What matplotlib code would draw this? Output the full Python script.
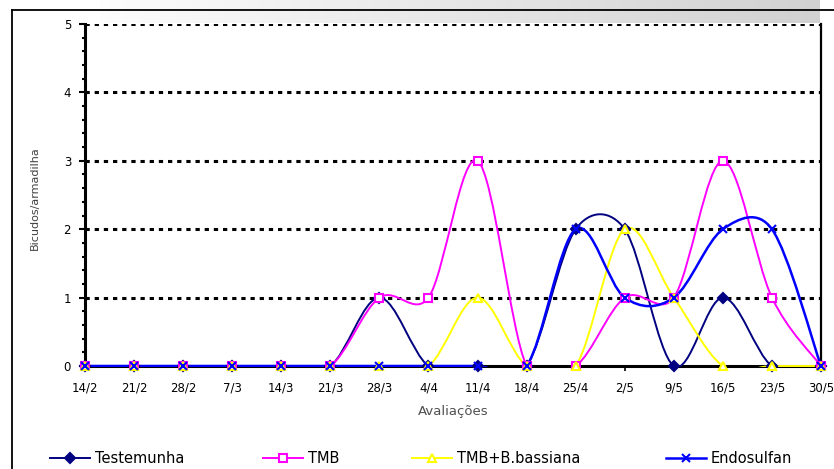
import numpy as np
import matplotlib
matplotlib.use("Agg")
from matplotlib import pyplot as plt
from matplotlib.path import Path
from matplotlib.patches import PathPatch, Rectangle
from matplotlib.lines import Line2D
from matplotlib.ticker import MultipleLocator

# data
datas = ['14/2', '21/2', '28/2', '7/3', '14/3', '21/3', '28/3', '4/4',
         '11/4', '18/4', '25/4', '2/5', '9/5', '16/5', '23/5', '30/5']
testemunha = [0, 0, 0, 0, 0, 0, 1, 0, 0, 0, 2, 2, 0, 1, 0, 0]
tmb = [0, 0, 0, 0, 0, 0, 1, 1, 3, 0, 0, 1, 1, 3, 1, 0]
tmb_bb = [0, 0, 0, 0, 0, 0, 0, 0, 1, 0, 0, 2, 1, 0, 0, 0]
endosulfan = [0, 0, 0, 0, 0, 0, 0, 0, 0, 0, 2, 1, 1, 2, 2, 0]

nomes = ['Testemunha', 'TMB', 'TMB+B.bassiana', 'Endosulfan']
series = [testemunha, tmb, tmb_bb, endosulfan]
cores = ['#000080', '#FF00FF', '#FFFF00', '#0000FF']
marcas = ['D', 's', '^', 'x']
faces = ['#000080', 'white', 'white', '#0000FF']
larguras = [1.4, 1.4, 1.4, 1.8]

W, H = 834, 469


def smooth_path(ax, x, y):
    # bezier segments like a smoothed spreadsheet line, worked out in pixels
    pts = ax.transData.transform(np.column_stack([x, y]))
    n = len(pts)
    verts = [pts[0]]
    codes = [Path.MOVETO]
    for i in range(n - 1):
        p0 = pts[max(i - 1, 0)]
        p1 = pts[i]
        p2 = pts[i + 1]
        p3 = pts[min(i + 2, n - 1)]
        d12 = np.hypot(*(p2 - p1))
        d02 = np.hypot(*(p2 - p0))
        d13 = np.hypot(*(p3 - p1))
        f1 = 1 / 6 if d02 == 0 else min(1 / 6, 0.5 * d12 / d02)
        f2 = 1 / 6 if d13 == 0 else min(1 / 6, 0.5 * d12 / d13)
        c1 = p1 + f1 * (p2 - p0)
        c2 = p2 - f2 * (p3 - p1)
        verts += [c1, c2, p2]
        codes += [Path.CURVE4] * 3
    verts = ax.transData.inverted().transform(np.array(verts))
    return Path(verts, codes)


fig = plt.figure(figsize=(W / 100, H / 100), dpi=100)
fig.patch.set_facecolor('white')

# gray gradient band at the top
band = fig.add_axes([100 / W, 1 - 23 / H, 720 / W, 23 / H], zorder=0)
grad = np.linspace(0.99, 0.82, 256).reshape(1, -1)
band.imshow(np.dstack([grad, grad, grad]), aspect='auto', extent=(0, 1, 0, 1))
band.axis('off')

ax = fig.add_axes([85 / W, 1 - 366 / H, 736 / W, 342 / H], zorder=2)
ax.set_xlim(0, len(datas) - 1)
ax.set_ylim(0, 5)

# lines below zero are cut off, as in the original
clip = Rectangle((-0.5, -0.02), len(datas), 5.6, transform=ax.transData)

xs = np.arange(len(datas))
for nome, ys, cor, mk, fc, lw in zip(nomes, series, cores, marcas, faces, larguras):
    patch = PathPatch(smooth_path(ax, xs, ys), facecolor='none', edgecolor=cor,
                      lw=lw, zorder=3)
    ax.add_patch(patch)
    patch.set_clip_path(clip)
    ax.plot(xs, ys, linestyle='none', marker=mk, markersize=5.5 if mk != 'x' else 6,
            markerfacecolor=fc, markeredgecolor=cor, markeredgewidth=1.5,
            zorder=4, clip_on=False)

# dotted gridlines
for v in range(1, 6):
    ax.axhline(v, color='black', lw=2.2, linestyle=(0, (1.4, 1.6)), zorder=2)

ax.spines['top'].set_visible(False)
ax.spines['left'].set_linewidth(2.2)
ax.spines['bottom'].set_linewidth(2.2)
ax.spines['right'].set_linewidth(1.6)
ax.spines['bottom'].set_zorder(2.5)

ax.set_xticks(xs)
ax.set_xticklabels(datas, fontsize=8.5)
ax.yaxis.set_major_locator(MultipleLocator(1))
ax.yaxis.set_minor_locator(MultipleLocator(0.2))
ax.tick_params(axis='y', which='major', direction='out', length=4, width=1.5,
               labelsize=8.5, pad=6)
ax.tick_params(axis='y', which='minor', direction='out', length=2.5, width=1.5)
ax.tick_params(axis='x', which='major', direction='out', length=3.5, width=1.2,
               pad=8)

fig.text(35 / W, 1 - 198 / H, 'Bicudos/armadilha', rotation=90, fontsize=8,
         color='#404040', ha='center', va='center')
fig.text(453 / W, 1 - 411 / H, 'Avaliações', fontsize=9.5, color='#505050',
         ha='center', va='center')

# outer frame
fig.add_artist(Line2D([12 / W, 12 / W], [0, 1 - 10 / H], color='black', lw=1.3,
                      transform=fig.transFigure, zorder=6))
fig.add_artist(Line2D([12 / W, 1], [1 - 10 / H, 1 - 10 / H], color='black', lw=1.3,
                      transform=fig.transFigure, zorder=6))

# legend drawn by hand
leg_x = [50, 263, 412, 666]
leg_y = 1 - 458 / H
for lx, nome, cor, mk, fc, lw in zip(leg_x, nomes, cores, marcas, faces, larguras):
    fig.add_artist(Line2D([lx / W, (lx + 40) / W], [leg_y, leg_y], color=cor, lw=lw,
                          transform=fig.transFigure))
    fig.add_artist(Line2D([(lx + 20) / W], [leg_y], linestyle='none', marker=mk,
                          markersize=5.5 if mk != 'x' else 6, markerfacecolor=fc,
                          markeredgecolor=cor, markeredgewidth=1.5,
                          transform=fig.transFigure))
    fig.text((lx + 45) / W, leg_y, nome, fontsize=10.5, color='black',
             ha='left', va='center')

fig.savefig('out.png', dpi=100)
